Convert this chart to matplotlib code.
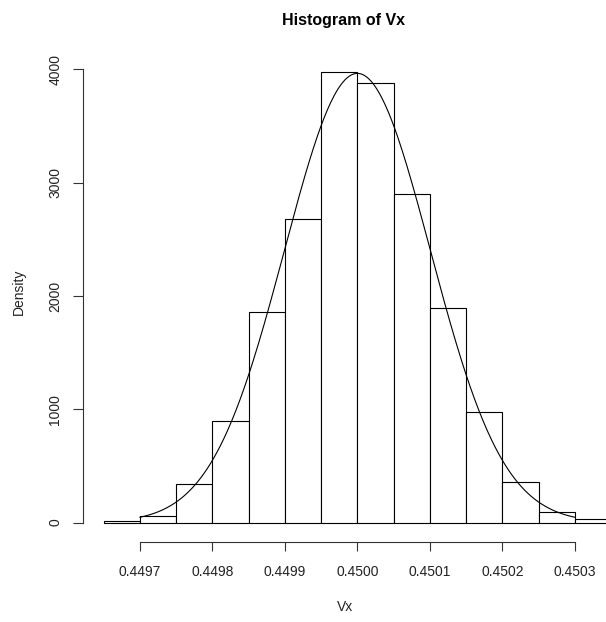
import numpy as np
import matplotlib
matplotlib.use("Agg")
import matplotlib.pyplot as plt

plt.rcParams['font.family'] = ['Liberation Sans', 'DejaVu Sans']

# Histogram bins (left edges) and density heights
bin_edges = [0.44965, 0.44970, 0.44975, 0.44980, 0.44985, 0.44990, 0.44995,
             0.45000, 0.45005, 0.45010, 0.45015, 0.45020, 0.45025, 0.45030, 0.45035]
densities = [12, 60, 340, 895, 1860, 2680, 3980,
             3885, 2900, 1895, 975, 355, 95, 35]

# Fitted normal curve parameters
fit_mean = 0.45000
fit_sd = 0.0001006
curve_from, curve_to = 0.44970, 0.45030

x_ticks = [0.4497, 0.4498, 0.4499, 0.4500, 0.4501, 0.4502, 0.4503]
x_tick_labels = ["0.4497", "0.4498", "0.4499", "0.4500", "0.4501", "0.4502", "0.4503"]
y_ticks = [0, 1000, 2000, 3000, 4000]

W, H = 606, 622
fig = plt.figure(figsize=(W / 100, H / 100), dpi=100)
left_px, right_px, top_px, bottom_px = 83, 606, 50, 542
ax = fig.add_axes([left_px / W, 1 - bottom_px / H,
                   (right_px - left_px) / W, (bottom_px - top_px) / H])

edges = np.array(bin_edges)
ax.bar(edges[:-1], densities, width=np.diff(edges), align='edge',
       facecolor='white', edgecolor='black', linewidth=0.8, clip_on=False)

xs = np.linspace(curve_from, curve_to, 400)
ys = np.exp(-0.5 * ((xs - fit_mean) / fit_sd) ** 2) / (fit_sd * np.sqrt(2 * np.pi))
ax.plot(xs, ys, color='black', linewidth=0.8)

ax.set_xlim(0.4496214, 0.450343)
ax.set_ylim(-172, 4172)

for s in ['top', 'right']:
    ax.spines[s].set_visible(False)
ax.spines['bottom'].set_bounds(x_ticks[0], x_ticks[-1])
ax.spines['left'].set_bounds(y_ticks[0], y_ticks[-1])
for s in ['bottom', 'left']:
    ax.spines[s].set_linewidth(0.8)
    ax.spines[s].set_color('#333333')

ax.set_xticks(x_ticks)
ax.set_xticklabels(x_tick_labels)
ax.set_yticks(y_ticks)
ax.set_yticklabels([str(v) for v in y_ticks], rotation=90, va='center')
ax.tick_params(axis='x', length=6.5, width=0.8, pad=10, labelsize=10,
               color='#333333', labelcolor='#222222')
ax.tick_params(axis='y', length=7, width=0.8, pad=8, labelsize=10,
               color='#333333', labelcolor='#222222')

fig.text(344 / W, 1 - 20 / H, "Histogram of Vx", ha='center', va='center',
         fontsize=11.5, fontweight='bold')
fig.text(345 / W, 1 - 607 / H, "Vx", ha='center', va='center', fontsize=10,
         color='#222222')
fig.text(19 / W, 1 - 292 / H, "Density", ha='center', va='center', fontsize=10,
         rotation=90, color='#222222')

fig.savefig("out.png", dpi=100)
